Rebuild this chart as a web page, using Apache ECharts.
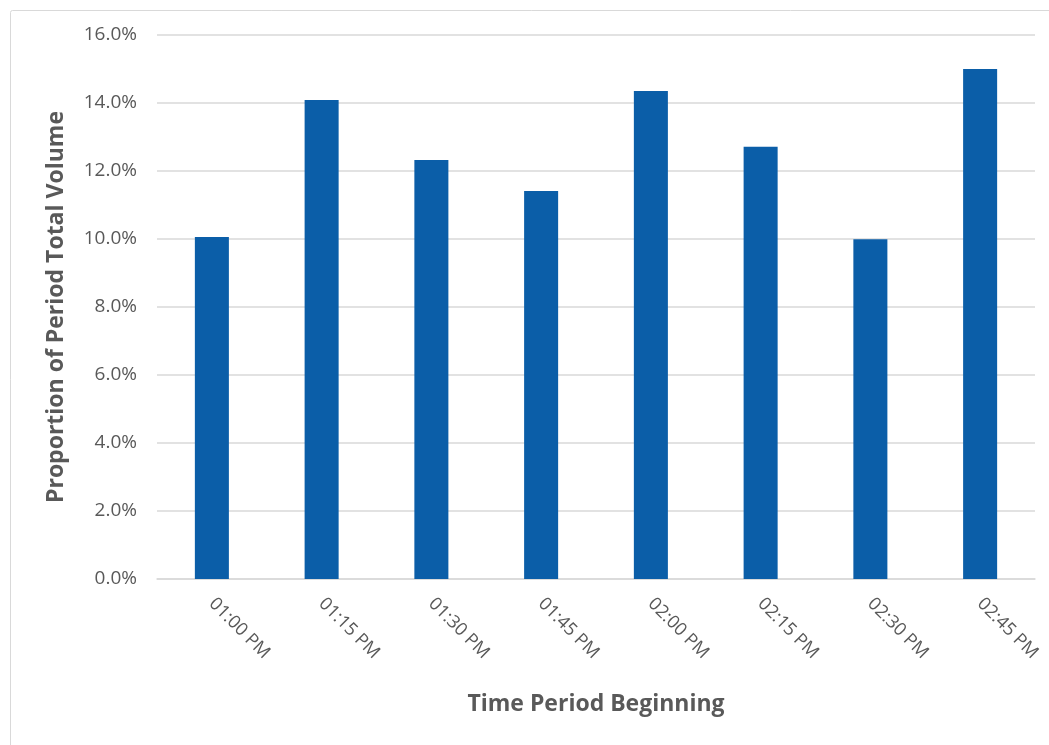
<!DOCTYPE html>
<html>
<head>
<meta charset="utf-8">
<script src="https://cdn.jsdelivr.net/npm/echarts@6/dist/echarts.min.js"></script>
<style>
html,body{margin:0;padding:0;background:#fff;}
#chart{width:1049px;height:745px;}
</style>
</head>
<body>
<div id="chart"></div>
<script>
const categories = ['01:00 PM','01:15 PM','01:30 PM','01:45 PM','02:00 PM','02:15 PM','02:30 PM','02:45 PM'];
const proportions = [10.06, 14.09, 12.32, 11.41, 14.35, 12.71, 9.99, 15.0];
const yTicks = [0, 2, 4, 6, 8, 10, 12, 14, 16];

const chart = echarts.init(document.getElementById('chart'), null, {renderer:'canvas'});
const font = 'Open Sans, Liberation Sans, sans-serif';
chart.setOption({
  animation: false,
  backgroundColor: '#fff',
  graphic: [{
    type: 'rect', left: 8, top: 8,
    shape: {width: 1045, height: 745, r: 2},
    style: {fill: 'none', stroke: '#d9d9d9', lineWidth: 1},
    silent: true
  }],
  grid: {left: 157, right: 14, top: 35, bottom: 166},
  xAxis: {
    type: 'category',
    data: categories,
    name: 'Time Period Beginning',
    nameLocation: 'middle',
    nameGap: 114,
    nameTextStyle: {fontFamily: font, fontSize: 23, fontWeight: 'bold', color: '#595959'},
    axisLine: {lineStyle: {color: '#d9d9d9', width: 1.5}},
    axisTick: {show: false},
    axisLabel: {rotate: -45, margin: 22, fontFamily: font, fontSize: 18, color: '#595959', interval: 0}
  },
  yAxis: {
    type: 'value',
    min: yTicks[0],
    max: yTicks[yTicks.length - 1],
    interval: yTicks[1] - yTicks[0],
    name: 'Proportion of Period Total Volume',
    nameLocation: 'middle',
    nameGap: 89,
    nameTextStyle: {fontFamily: font, fontSize: 23, fontWeight: 'bold', color: '#595959'},
    axisLine: {show: false},
    axisTick: {show: false},
    splitLine: {lineStyle: {color: '#d9d9d9', width: 1.5}},
    axisLabel: {margin: 20, fontFamily: font, fontSize: 19, color: '#595959',
      formatter: v => v.toFixed(1) + '%'}
  },
  series: [{
    type: 'bar',
    data: proportions,
    barWidth: '31%',
    itemStyle: {color: '#0b5ea8'}
  }]
});
</script>
</body>
</html>
